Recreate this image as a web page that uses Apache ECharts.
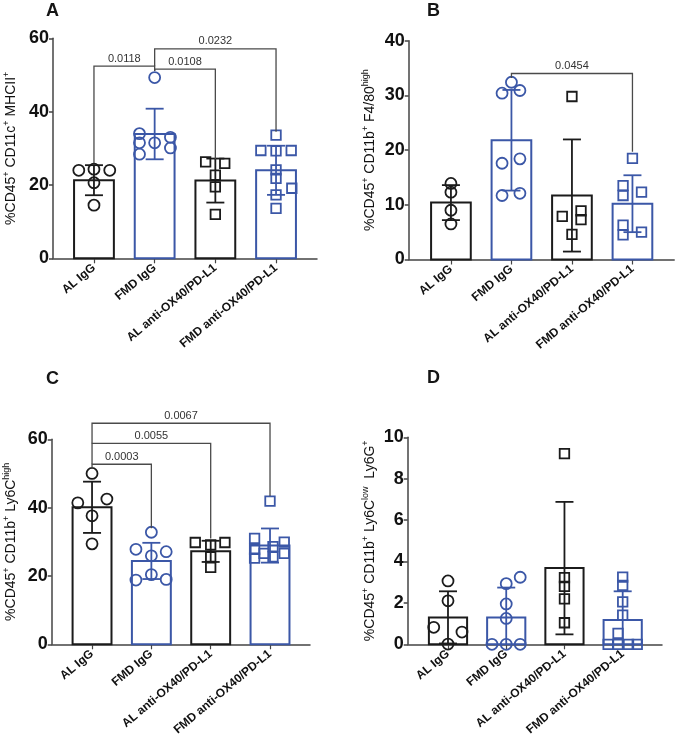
<!DOCTYPE html>
<html><head><meta charset="utf-8">
<script src="https://cdn.jsdelivr.net/npm/echarts@6/dist/echarts.min.js"></script>
<style>html,body{margin:0;padding:0;background:#fff}#c{width:675px;height:748px}</style>
</head><body><div id="c"></div>
<script>
// ---------------- DATA ----------------
const categories = ['AL IgG', 'FMD IgG', 'AL anti-OX40/PD-L1', 'FMD anti-OX40/PD-L1'];
const panelLetters = ['A', 'B', 'C', 'D'];
const yNames = [
  '{n|%CD45}{s|+}{n| CD11c}{s|+}{n| MHCII}{s|+}',
  '{n|%CD45}{s|+}{n| CD11b}{s|+}{n| F4/80}{s|high}',
  '{n|%CD45}{s|+}{n| CD11b}{s|+}{n| Ly6C}{s|high}',
  '{n|%CD45}{s|+}{n| CD11b}{s|+}{n| Ly6C}{s|low}{n|  Ly6G}{s|+}'
];
const yMax = [60, 40, 60, 10];
const yInterval = [20, 10, 20, 2];

// Panel A
const meanA = [21.3, 33.9, 21.2, 24.0];
const sdA = [4.1, 6.9, 6.0, 6.7];
const ptsA = [
  [[-0.25, 24.0], [0, 24.3], [0.26, 24.0], [0, 20.6], [0, 14.5]],
  [[-0.25, 34.0], [-0.25, 31.5], [-0.25, 28.4], [0, 31.5], [0, 49.3], [0.26, 33.0], [0.26, 30.1]],
  [[-0.16, 26.3], [0.155, 25.9], [0, 22.7], [0, 19.5], [0, 12.0]],
  [[0, 33.6], [-0.25, 29.4], [0, 29.3], [0.25, 29.4], [0, 24.1], [0, 21.8], [0.26, 19.1], [0, 17.3], [0, 13.6]]
];
const bracketsA = [
  [0, 1, 52.4, 25.9, 51.1, '0.0118'],
  [1, 2, 51.6, 51.1, 27.0, '0.0108'],
  [1, 3, 57.1, 52.4, 34.5, '0.0232']
];

// Panel B
const meanB = [10.4, 21.8, 11.7, 10.2];
const sdB = [3.2, 9.2, 10.25, 5.2];
const ptsB = [
  [[0, 13.9], [0, 12.3], [0, 9.0], [0, 6.5]],
  [[0, 32.4], [-0.155, 30.4], [0.14, 30.9], [-0.155, 17.6], [0.14, 18.4], [-0.155, 11.7], [0.14, 12.1]],
  [[0, 29.8], [-0.16, 7.9], [0.15, 8.9], [0.15, 7.3], [0, 4.6]],
  [[0, 18.5], [-0.155, 13.5], [-0.155, 11.7], [0.15, 12.3], [-0.155, 6.3], [-0.155, 4.5], [0.15, 5.0]]
];
const bracketsB = [
  [1, 3, 34.0, 33.2, 19.7, '0.0454']
];

// Panel C
const meanC = [40.1, 24.4, 27.2, 28.9];
const sdC = [7.5, 5.3, 3.1, 5.0];
const ptsC = [
  [[0, 50.0], [-0.24, 41.4], [0.25, 42.5], [0, 37.6], [0, 29.4]],
  [[0, 32.8], [-0.26, 27.8], [0.25, 27.1], [0, 25.9], [0, 20.4], [-0.26, 18.8], [0.25, 19.0]],
  [[-0.26, 29.8], [0.24, 29.8], [0, 29.1], [0, 25.6], [0, 22.5]],
  [[0, 41.9], [-0.26, 31.0], [0.24, 29.9], [-0.26, 27.8], [0.05, 28.6], [0.24, 26.6], [-0.26, 25.2], [-0.1, 26.6], [0.05, 25.6]]
];
const bracketsC = [
  [0, 1, 52.7, 51.5, 34.0, '0.0003'],
  [0, 2, 58.8, 52.7, 31.0, '0.0055'],
  [0, 3, 64.7, 58.8, 43.4, '0.0067']
];

// Panel D
const meanD = [1.3, 1.3, 3.68, 1.17];
const sdD = [1.26, 1.44, 3.2, 1.39];
const ptsD = [
  [[0, 3.06], [0, 2.1], [-0.245, 0.82], [0.24, 0.59], [0, 0.01]],
  [[0, 2.93], [0.24, 3.24], [0, 1.95], [0, 1.25], [-0.245, 0], [0, 0], [0.24, 0]],
  [[0, 9.21], [0, 3.22], [0, 2.8], [0, 2.19], [0, 1.04]],
  [[0, 3.25], [0, 2.85], [0, 2.05], [0, 1.41], [-0.08, 0.53], [-0.25, 0], [-0.08, 0], [0.1, 0], [0.25, 0]]
];
const bracketsD = [];

// ---------------- STYLE / LAYOUT ----------------
const FONT = '"Liberation Sans", Arial, Helvetica, sans-serif';
const BLACK = '#1b1b1b';
const BLUE = '#3b57a7';
const groupColor = [BLACK, BLUE, BLACK, BLUE];
const groupSymbol = ['circle', 'circle', 'rect', 'rect'];
const groupSymbolSize = [11, 11, 9.5, 9.5];
const BAR_HALF = 0.328;

const layout = [
  {left: 53, top: 38.3, width: 264, height: 220, xMin: -0.675, xMax: 3.675, nameGap: 33, letter: [46, 2]},
  {left: 408.7, top: 40.7, width: 265.5, height: 218.8, xMin: -0.698, xMax: 3.69, nameGap: 30, letter: [427, 2]},
  {left: 51.7, top: 439.3, width: 258.3, height: 205, xMin: -0.68, xMax: 3.674, nameGap: 32, letter: [46, 370]},
  {left: 407.7, top: 437.3, width: 254.3, height: 207, xMin: -0.692, xMax: 3.675, nameGap: 29, letter: [427, 369]}
];

const panelMeans = [meanA, meanB, meanC, meanD];
const panelSds = [sdA, sdB, sdC, sdD];
const panelPts = [ptsA, ptsB, ptsC, ptsD];
const panelBrackets = [bracketsA, bracketsB, bracketsC, bracketsD];

const grids = [], xAxes = [], yAxes = [], series = [], titles = [];

for (let k = 0; k < 4; k++) {
  const L = layout[k];
  grids.push({left: L.left, top: L.top, width: L.width, height: L.height, containLabel: false});
  titles.push({text: panelLetters[k], left: L.letter[0], top: L.letter[1], padding: 0,
    textStyle: {fontFamily: FONT, fontSize: 18, fontWeight: 'bold', color: '#151515'}});
  xAxes.push({
    type: 'value', gridIndex: k, min: L.xMin, max: L.xMax,
    axisLine: {show: true, onZero: false, lineStyle: {color: '#444', width: 1.5}},
    axisTick: {show: true, customValues: [0, 1, 2, 3], length: 5, lineStyle: {color: '#444', width: 1.2}},
    axisLabel: {show: true, customValues: [0, 1, 2, 3], rotate: 40, margin: 8,
      formatter: v => categories[Math.round(v)] || '',
      fontFamily: FONT, fontSize: 12, fontWeight: 'bold', color: '#111'},
    splitLine: {show: false}
  });
  yAxes.push({
    type: 'value', gridIndex: k, min: 0, max: yMax[k], interval: yInterval[k],
    name: yNames[k], nameLocation: 'middle', nameRotate: 90, nameGap: L.nameGap,
    nameTextStyle: {fontFamily: FONT, fontSize: 14, color: '#111',
      rich: {n: {fontFamily: FONT, fontSize: 14, lineHeight: 18, color: '#111'},
             s: {fontFamily: FONT, fontSize: 9, lineHeight: 10, verticalAlign: 'top', color: '#111'}}},
    axisLine: {show: true, onZero: false, lineStyle: {color: '#444', width: 1.5}},
    axisTick: {show: true, length: 4, lineStyle: {color: '#444', width: 1.5}},
    axisLabel: {margin: 4, fontFamily: FONT, fontSize: 18, fontWeight: 'bold', color: '#111'},
    splitLine: {show: false}
  });

  const means = panelMeans[k], sds = panelSds[k];
  // bars
  series.push({
    type: 'custom', xAxisIndex: k, yAxisIndex: k, silent: true, z: 2,
    data: means.map((m, i) => [i, m]),
    renderItem: (params, api) => {
      const i = api.value(0), m = api.value(1);
      const p1 = api.coord([i - BAR_HALF, m]);
      const p0 = api.coord([i + BAR_HALF, 0]);
      return {type: 'rect', shape: {x: p1[0], y: p1[1], width: p0[0] - p1[0], height: p0[1] - p1[1]},
        style: {fill: 'rgba(255,255,255,0)', stroke: groupColor[i], lineWidth: 2}};
    }
  });
  // error bars (mean ± SD)
  series.push({
    type: 'custom', xAxisIndex: k, yAxisIndex: k, silent: true, z: 3,
    data: means.map((m, i) => [i, m, sds[i]]),
    renderItem: (params, api) => {
      const i = api.value(0), m = api.value(1), s = api.value(2);
      const lo = Math.max(0, m - s);
      const pt = api.coord([i, m + s]), pb = api.coord([i, lo]);
      const st = {stroke: groupColor[i], lineWidth: 1.8};
      const ch = [
        {type: 'line', shape: {x1: pt[0], y1: pt[1], x2: pb[0], y2: pb[1]}, style: st},
        {type: 'line', shape: {x1: pt[0] - 9, y1: pt[1], x2: pt[0] + 9, y2: pt[1]}, style: st}
      ];
      if (m - s > 0) ch.push({type: 'line', shape: {x1: pb[0] - 9, y1: pb[1], x2: pb[0] + 9, y2: pb[1]}, style: st});
      return {type: 'group', children: ch};
    }
  });
  // individual points
  for (let g = 0; g < 4; g++) {
    series.push({
      type: 'scatter', xAxisIndex: k, yAxisIndex: k, silent: true, z: 4,
      symbol: groupSymbol[g], symbolSize: groupSymbolSize[g],
      itemStyle: {color: 'rgba(255,255,255,0)', borderColor: groupColor[g], borderWidth: 1.8, opacity: 1},
      data: panelPts[k][g].map(p => [g + p[0], p[1]])
    });
  }
  // significance brackets
  const br = panelBrackets[k];
  if (br.length) {
    series.push({
      type: 'custom', xAxisIndex: k, yAxisIndex: k, silent: true, z: 5, clip: false,
      data: br.map(b => [b[0], b[2]]),
      renderItem: (params, api) => {
        const b = br[params.dataIndex];
        const a1 = api.coord([b[0], b[3]]), a2 = api.coord([b[0], b[2]]);
        const b2 = api.coord([b[1], b[2]]), b1 = api.coord([b[1], b[4]]);
        return {type: 'group', children: [
          {type: 'polyline', shape: {points: [a1, a2, b2, b1]},
            style: {fill: 'none', stroke: '#4a4a4a', lineWidth: 1.3}},
          {type: 'text', x: (a2[0] + b2[0]) / 2, y: a2[1] - 2,
            style: {text: b[5], fontFamily: FONT, fontSize: 11, fill: '#333', align: 'center', verticalAlign: 'bottom'}}
        ]};
      }
    });
  }
}

const chart = echarts.init(document.getElementById('c'), null, {renderer: 'canvas'});
chart.setOption({
  backgroundColor: '#ffffff',
  animation: false,
  title: titles,
  grid: grids,
  xAxis: xAxes,
  yAxis: yAxes,
  series: series
});
</script>
</body></html>
